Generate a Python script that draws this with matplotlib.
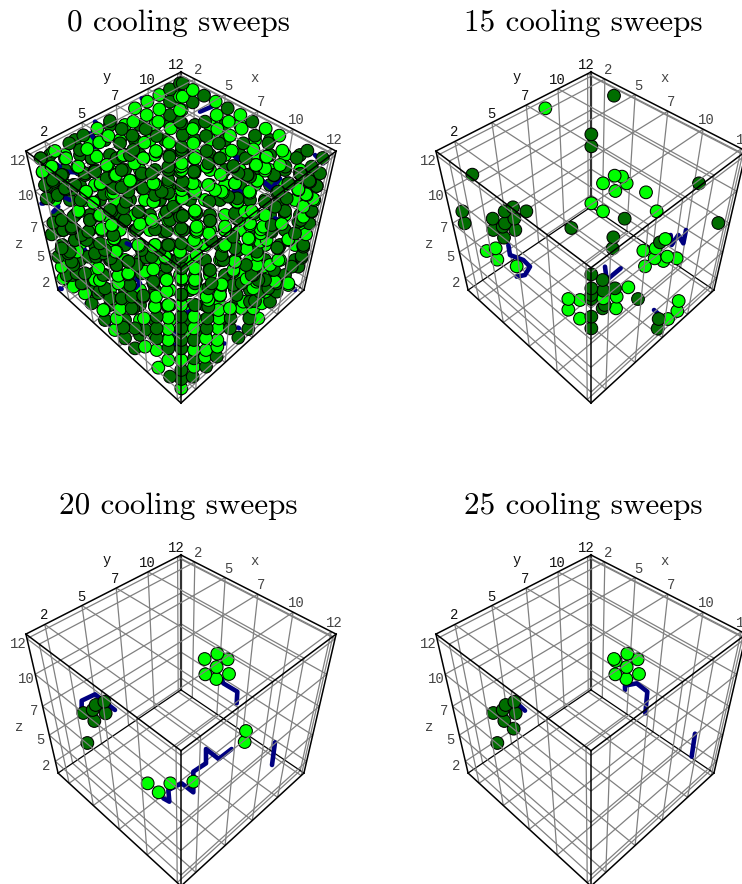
import numpy as np
import matplotlib
matplotlib.use("Agg")
import matplotlib.pyplot as plt

plt.rcParams["axes.unicode_minus"] = False

# tick values on all three axes, shown rounded down as in the original
tick_values = [2.5, 5, 7.5, 10, 12.5]
tick_labels = ["2", "5", "7", "10", "12"]
box_lo, box_hi = 1.3, 12.8

sweeps = [0, 15, 20, 25]

# ball and link positions were read off 3x enlargements of the picture,
# so each list goes with the corner of the view it was read from
VIEW_A = (0, 50)
VIEW_B = (180, 50)
VIEW_C = (20, 225)
VIEW_D = (410, 50)
VIEW_E = (430, 225)
VIEW_F = (0, 535)
VIEW_G = (410, 535)
VIEW_H = (30, 150)
VIEW_I = (180, 150)
VIEW_J = (60, 255)

# 0 sweeps
light_0a = [(165,303),(292,236),(128,366),(155,350),(198,325),(262,297),(325,258),(405,175),(442,155),(478,135),
            (400,215),(440,195),(478,178),(540,140),(475,215),(512,235),(545,180),(433,278),(507,278),(298,277),
            (232,350),(323,345),(368,318),(430,325),(468,303),(545,305),(345,375),(302,402),(258,425),(403,340),
            (392,392),(465,402),(505,395),(340,428),(283,458),(462,455),(298,497),(237,485),(418,485),(458,515),
            (338,525),(420,522),(505,512),(545,445),(545,360),(545,340)]
dark_0a = [(122,325),(208,280),(250,256),(330,213),(365,237),(510,118),(540,100),(510,155),(397,257),(437,237),
           (510,195),(360,280),(470,258),(545,220),(275,325),(188,375),(140,408),(158,390),(350,325),(400,300),
           (508,320),(283,365),(255,375),(217,418),(197,418),(365,360),(425,375),(505,360),(428,415),(365,412),
           (312,432),(242,450),(173,435),(147,445),(505,428),(378,455),(335,483),(270,510),(185,510),(160,518),
           (500,485),(372,513),(215,530),(540,500),(545,405),(545,290)]
light_0b = [(38,120),(107,155),(181,195),(257,236),(298,257),(8,140),(110,195),(146,215),(185,236),(307,302),
            (0,180),(38,237),(112,237),(150,257),(220,298),(258,320),(40,280),(155,302),(227,345),(255,362),
            (355,420),(378,433),(403,450),(45,325),(83,350),(122,374),(232,392),(370,470),(5,348),(165,400),
            (128,428),(210,428),(172,455),(215,483),(45,430),(45,485),(8,445),(255,495),(305,522),(135,530),
            (50,530),(250,530),(210,520)]
dark_0b = [(8,100),(72,137),(143,175),(217,215),(382,302),(428,324),(38,157),(225,257),(265,280),(350,324),
           (395,350),(420,370),(0,215),(75,215),(190,280),(316,350),(360,372),(388,393),(410,408),(8,255),
           (78,258),(117,280),(197,325),(282,376),(326,400),(8,300),(80,303),(120,325),(160,348),(203,375),
           (291,428),(320,445),(395,483),(43,368),(255,455),(145,440),(315,483),(8,395),(90,512),(170,505),
           (362,510),(388,520),(8,498)]
light_0c = [(245,15),(530,20),(615,15),(688,42),(722,25),(805,45),(858,28),(283,42),(405,60),(528,55),
            (567,25),(612,63),(680,72),(775,105),(713,90),(740,45),(172,80),(287,80),(358,62),(400,133),
            (325,148),(295,152),(530,90),(605,105),(645,110),(730,125),(125,125),(235,130),(525,130),(440,165),
            (528,165),(605,178),(640,135),(805,180),(765,170),(130,160),(225,165),(240,165),(160,185),(295,175),
            (408,215),(440,200),(520,190),(560,215),(600,212),(680,162),(735,200),(700,190),(195,205),(252,255),
            (405,245),(484,240),(635,250),(670,230),(725,235),(300,252),(290,280),(372,280),(445,278),(522,275),
            (597,280),(665,250),(715,280),(285,315),(375,365),(445,312),(522,310),(595,310),(445,345),(558,340),
            (592,345),(410,375),(522,375),(558,375),(592,365),(415,428),(445,405),(484,405),(555,395),(522,425),
            (484,490)]
dark_0c = [(95,28),(130,15),(158,10),(345,17),(405,13),(440,18),(484,10),(575,48),(752,18),(850,60),
           (165,45),(205,20),(240,55),(442,60),(484,55),(640,35),(655,75),(772,68),(845,98),(835,125),
           (150,80),(205,95),(250,85),(325,110),(380,98),(440,100),(484,95),(568,135),(678,120),(762,135),
           (155,110),(170,145),(228,95),(272,100),(290,120),(250,150),(485,130),(365,145),(400,170),(575,175),
           (735,165),(700,150),(158,150),(190,175),(255,190),(185,175),(330,180),(484,165),(484,208),(370,212),
           (640,180),(715,165),(770,200),(235,205),(305,220),(335,215),(215,235),(270,220),(340,250),(442,242),
           (525,240),(565,245),(705,228),(750,230),(255,285),(310,308),(345,310),(410,275),(484,275),(562,280),
           (632,280),(688,280),(630,310),(655,338),(685,312),(315,340),(345,370),(375,315),(410,310),(484,310),
           (560,310),(410,340),(484,345),(522,345),(445,370),(484,370),(522,400),(590,395),(450,455),(484,435),
           (558,425),(484,462),(518,455)]
light_0h = [(65,50),(38,65),(105,25),(70,5),(145,50),(200,20),(230,45),(258,75),(212,100),(300,92),
            (168,125),(245,130),(190,158),(370,155),(410,185),(370,100),(340,25),(380,5),(280,15),(145,183),
            (215,237),(245,225),(210,195),(365,210),(260,305),(252,265),(325,285),(370,290),(405,320),(130,105)]
dark_0h = [(32,25),(95,75),(45,105),(70,95),(105,115),(50,145),(185,25),(150,0),(195,65),(230,85),
           (165,70),(135,105),(250,115),(295,125),(340,115),(335,70),(395,125),(412,130),(415,90),(415,50),
           (280,175),(240,180),(325,185),(180,210),(95,210),(130,200),(100,240),(125,235),(155,255),(135,270),
           (170,270),(285,210),(320,240),(400,245),(415,285),(420,210),(390,300),(335,300),(365,320),(225,300),
           (195,310),(115,310),(95,295),(85,320),(430,170),(375,135),(300,15),(365,70),(250,255)]
light_0i = [(42,25),(80,50),(0,50),(125,75),(165,100),(228,45),(260,20),(300,45),(232,92),(5,120),
            (45,125),(125,125),(208,125),(255,55),(355,118),(380,135),(400,147),(172,157),(195,185),(45,182),
            (50,240),(42,270),(135,240),(177,210),(210,225),(243,238),(205,265),(135,285),(325,268),(370,200),
            (275,245),(240,275),(10,105),(38,100),(85,105),(105,120),(0,305)]
dark_0i = [(5,0),(42,65),(118,25),(85,40),(160,50),(202,75),(282,75),(325,100),(295,125),(362,72),
           (390,95),(410,108),(0,65),(88,155),(172,145),(255,155),(285,170),(313,185),(355,215),(395,185),
           (165,190),(90,213),(50,190),(5,200),(10,240),(95,270),(275,225),(345,250),(370,290),(295,295),
           (165,295),(220,190),(125,315),(230,305),(365,318),(210,80),(175,70)]
light_0j = [(205,20),(205,55),(255,50),(120,75),(320,75),(365,70),(405,75),(485,90),(525,20),(590,30),
            (590,80),(630,30),(685,85),(130,165),(285,155),(325,150),(405,150),(445,135),(480,120),(475,165),
            (510,160),(580,160),(160,130)]
dark_0j = [(40,30),(75,55),(20,60),(120,105),(185,130),(215,160),(250,125),(170,30),(230,30),(280,85),
           (320,35),(345,20),(365,120),(405,85),(450,45),(490,15),(445,100),(520,50),(545,85),(575,60),
           (530,120),(570,140),(625,100),(650,85),(695,35),(600,110)]
links_0a = [[(270,250),(285,270),(285,290)], [(285,215),(295,225)], [(165,340),(180,350)], [(200,365),(260,370)],
            [(190,440),(210,450)], [(122,458),(130,458)], [(160,485),(175,470)], [(425,145),(440,150)]]
links_0b = [[(60,185),(95,170)], [(75,125),(85,130)], [(250,395),(275,415)], [(170,325),(195,330)],
            [(405,315),(430,340)], [(175,420),(195,435)]]
links_0c = [[(320,55),(335,62)], [(345,190),(360,175),(350,160)], [(490,270),(510,258)], [(120,190),(125,192)],
            [(115,85),(125,100)], [(195,75),(197,80)], [(200,235),(203,242)], [(655,308),(657,310)],
            [(820,190),(825,195)], [(770,215),(772,215)], [(265,295),(267,297)], [(610,355),(612,355)],
            [(465,325),(467,327)], [(465,358),(467,358)], [(535,385),(537,385)], [(500,422),(502,422)],
            [(545,260),(547,260)]]
links_0i = [[(165,20),(200,30)], [(245,90),(275,115),(300,85)], [(160,125),(190,135)], [(285,205),(295,210)]]

# balls behind the readable ones at 0 sweeps, rough positions in panel pixels
back_light_0 = [(125,125),(155,125),(210,125),(240,125),(90,140),(120,140),(150,140),(210,140),(255,140),
                (65,155),(95,155),(125,155),(155,155),(195,155),(225,155),(255,155),(285,155),
                (50,170),(80,170),(110,170),(140,170),(170,170),(210,170),(240,170),(270,170),(300,170),
                (65,185),(95,185),(125,185),(155,185),(195,185),(225,185),(255,185),(285,185),(312,185),
                (55,200),(85,200),(115,200),(145,200),(175,200),(205,200),(235,200),(265,200),(295,200),
                (75,215),(105,215),(135,215),(165,215),(195,215),(225,215),(255,215),(285,215),
                (60,230),(90,230),(120,230),(150,230),(180,230),(210,230),(240,230),(270,230),(300,230),
                (80,245),(110,245),(140,245),(170,245),(205,245),(235,245),(265,245),(295,245),
                (65,260),(95,260),(125,260),(155,260),(190,260),(220,260),(250,260),(280,260),
                (90,275),(120,275),(150,275),(180,275),(210,275),(240,275),(270,275),
                (110,290),(140,290),(170,290),(205,290),(235,290),(265,290),
                (125,305),(155,305),(190,305),(220,305),(250,305),(140,320),(170,320),(205,320),(155,335),(190,335)]
back_dark_0 = [(110,125),(140,125),(170,125),(195,125),(225,125),(75,140),(105,140),(135,140),(165,140),(195,140),
               (225,140),(270,140),(50,155),(80,155),(110,155),(140,155),(170,155),(210,155),(240,155),(270,155),
               (300,155),(65,170),(95,170),(125,170),(155,170),(195,170),(225,170),(255,170),(285,170),(312,170),
               (52,185),(80,185),(110,185),(140,185),(170,185),(210,185),(240,185),(270,185),(300,185),
               (70,200),(100,200),(130,200),(160,200),(190,200),(220,200),(250,200),(280,200),(310,200),
               (58,215),(90,215),(120,215),(150,215),(180,215),(210,215),(240,215),(270,215),(300,215),
               (75,230),(105,230),(135,230),(165,230),(195,230),(225,230),(255,230),(285,230),
               (62,245),(95,245),(125,245),(155,245),(190,245),(220,245),(250,245),(280,245),
               (80,260),(110,260),(140,260),(170,260),(205,260),(235,260),(265,260),(295,260),
               (72,275),(105,275),(135,275),(165,275),(195,275),(225,275),(255,275),(285,275),
               (95,290),(125,290),(155,290),(190,290),(220,290),(250,290),
               (110,305),(140,305),(170,305),(205,305),(235,305),(125,320),(155,320),(190,320),(220,320),(140,335),(170,335),(205,335)]

# 15 sweeps
light_15d = [(406,175),(614,377),(636,380),(579,400),(650,400),(616,423),(708,427),(544,460),(579,484),(740,484)]
dark_15d = [(612,137),(544,253),(544,289),(187,374),(867,400),(157,484),(164,520),(925,519),(484,534),(644,506),
            (309,472),(349,484),(284,484),(248,506),(313,506),(285,520),(278,530),(316,540)]
light_15e = [(170,78),(197,70),(202,104),(260,124),(640,77),(677,70),(706,42),(712,95),(674,100),(700,108),
             (740,100),(645,124),(595,187),(415,222),(415,254),(450,225),(450,281),(520,220),(560,215),(558,250),
             (746,228),(742,258),(714,282)]
dark_15e = [(190,15),(222,38),(550,37),(548,70),(484,148),(518,165),(484,190),(520,197),(555,190),(484,210),
            (484,222),(518,250),(524,240),(624,222),(484,275),(484,310),(690,52),(686,282),(683,311)]
links_15e = [[(235,60),(240,90),(280,105),(300,125),(285,150),(260,155)], [(525,125),(530,165),(572,130)],
             [(722,30),(725,60),(745,30),(760,55),(768,15)], [(672,255),(695,275)]]

# 20 sweeps
light_20 = [(614,372),(652,356),(683,373),(650,396),(616,418),(649,432),(687,417),(738,588),(734,621),(443,745),
            (476,772),(511,745),(580,740)]
dark_20 = [(262,624),(250,534),(287,510),(313,500),(278,525),(317,535),(283,558)]
links_20 = [[(245,520),(245,497),(285,478),(345,525)], [(665,432),(670,445),(712,470),(710,505)],
            [(490,790),(508,800),(505,765),(545,745),(580,772),(580,710),(618,685),(618,642),(656,672),(695,642)],
            [(825,622),(816,690)]]

# 25 sweeps
light_25 = [(612,372),(617,378),(652,356),(683,373),(650,396),(616,418),(649,432),(687,417)]
dark_25 = [(262,624),(250,534),(287,510),(313,500),(278,525),(317,535),(283,558),(311,581)]
links_25 = [[(330,513),(345,527)], [(645,465),(645,452),(680,445),(712,470),(706,535)], [(855,596),(845,665)]]

panels = [
    {"origin": (0, 0), "size": (410, 483), "title_x": 178.5,
     "light": [(light_0a, VIEW_A), (light_0b, VIEW_B), (light_0c, VIEW_C), (light_0h, VIEW_H),
               (light_0i, VIEW_I), (light_0j, VIEW_J)],
     "dark": [(dark_0a, VIEW_A), (dark_0b, VIEW_B), (dark_0c, VIEW_C), (dark_0h, VIEW_H),
              (dark_0i, VIEW_I), (dark_0j, VIEW_J)],
     "links": [(links_0a, VIEW_A), (links_0b, VIEW_B), (links_0c, VIEW_C), (links_0i, VIEW_I)],
     "back": (back_light_0, back_dark_0)},
    {"origin": (410, 0), "size": (332, 483), "title_x": 173.5,
     "light": [(light_15d, VIEW_D), (light_15e, VIEW_E)],
     "dark": [(dark_15d, VIEW_D), (dark_15e, VIEW_E)],
     "links": [(links_15e, VIEW_E)]},
    {"origin": (0, 483), "size": (410, 401), "title_x": 178.5,
     "light": [(light_20, VIEW_F)], "dark": [(dark_20, VIEW_F)], "links": [(links_20, VIEW_F)]},
    {"origin": (410, 483), "size": (332, 401), "title_x": 173.5,
     "light": [(light_25, VIEW_G)], "dark": [(dark_25, VIEW_G)], "links": [(links_25, VIEW_G)]},
]

LIGHT = "#00ff00"
DARK = "#006e00"
BLUE = "#000080"
GRID = "#808080"
W, H = 742, 884


def fit_camera():
    # corners of the box in panel pixels, then a plain DLT fit
    lo, hi = box_lo, box_hi
    pairs = [((lo, hi, hi), (181, 72)), ((lo, lo, hi), (26, 151)), ((hi, hi, hi), (336, 151)),
             ((hi, lo, hi), (181, 268)), ((hi, lo, lo), (181, 403)), ((lo, lo, lo), (58, 290)),
             ((hi, hi, lo), (304, 290)), ((lo, hi, lo), (181, 207))]
    rows = []
    for (x, y, z), (u, v) in pairs:
        rows.append([x, y, z, 1, 0, 0, 0, 0, -u*x, -u*y, -u*z, -u])
        rows.append([0, 0, 0, 0, x, y, z, 1, -v*x, -v*y, -v*z, -v])
    return np.linalg.svd(np.array(rows, dtype=float))[2][-1].reshape(3, 4)


camera = fit_camera()


def project(x, y, z):
    p = camera @ np.array([x, y, z, 1.0])
    return p[0]/p[2], p[1]/p[2]


def segment(ax, a, b, **kw):
    pa, pb = project(*a), project(*b)
    ax.plot([pa[0], pb[0]], [pa[1], pb[1]], **kw)


def face_grid(ax, axis, value, zorder):
    # lines of one box face, axis is the one held fixed
    others = [i for i in range(3) if i != axis]
    for n, m in (others, others[::-1]):
        for t in tick_values:
            a = [0, 0, 0]
            b = [0, 0, 0]
            a[axis] = b[axis] = value
            a[n] = b[n] = t
            a[m], b[m] = box_lo, box_hi
            segment(ax, a, b, color=GRID, lw=0.9, zorder=zorder, solid_capstyle="butt")


def to_panel(groups, origin):
    out = []
    for pts, view in groups:
        for px, py in pts:
            out.append((view[0] + px/3 - origin[0], view[1] + py/3 - origin[1]))
    return out


fig = plt.figure(figsize=(W/100, H/100), dpi=100)

for n, sweep in enumerate(sweeps):
    panel = panels[n]
    ox, oy = panel["origin"]
    pw, ph = panel["size"]
    ax = fig.add_axes([ox/W, 1 - (oy + ph)/H, pw/W, ph/H])
    ax.set_xlim(0, pw)
    ax.set_ylim(ph, 0)
    ax.axis("off")

    lo, hi = box_lo, box_hi

    # far faces first, marks in between, near faces on top
    face_grid(ax, 0, lo, 1)
    face_grid(ax, 1, hi, 1)
    face_grid(ax, 2, lo, 1)
    edge = dict(color="black", lw=0.9, zorder=2)
    segment(ax, (lo, hi, lo), (lo, hi, hi), color="#333333", lw=1.6, zorder=2)
    segment(ax, (lo, hi, lo), (lo, lo, lo), **edge)
    segment(ax, (lo, hi, lo), (hi, hi, lo), **edge)

    if "back" in panel:
        back_l, back_d = panel["back"]
        back = [(p, LIGHT) for p in back_l] + [(p, DARK) for p in back_d]
        back.sort(key=lambda b: (-b[0][1], b[0][0]))
        ax.scatter([b[0][0] for b in back], [b[0][1] for b in back], c=[b[1] for b in back],
                   s=84, edgecolors="black", linewidths=0.75, zorder=2.5)

    for links, view in panel["links"]:
        for path in links:
            pts = to_panel([(path, view)], (ox, oy))
            ax.plot([p[0] for p in pts], [p[1] for p in pts], color=BLUE, lw=3.3,
                    solid_capstyle="round", solid_joinstyle="round", zorder=3)

    light = to_panel(panel["light"], (ox, oy))
    dark = to_panel(panel["dark"], (ox, oy))
    balls = [(p, LIGHT) for p in light] + [(p, DARK) for p in dark]
    balls.sort(key=lambda b: -b[0][1])
    ax.scatter([b[0][0] for b in balls], [b[0][1] for b in balls], c=[b[1] for b in balls],
               s=84, edgecolors="black", linewidths=0.75, zorder=4)

    face_grid(ax, 0, hi, 5)
    face_grid(ax, 1, lo, 5)
    face_grid(ax, 2, hi, 5)

    edge = dict(color="black", lw=1.1, zorder=6)
    segment(ax, (lo, hi, hi), (lo, lo, hi), **edge)
    segment(ax, (lo, hi, hi), (hi, hi, hi), **edge)
    segment(ax, (hi, lo, hi), (lo, lo, hi), **edge)
    segment(ax, (hi, lo, hi), (hi, hi, hi), **edge)
    segment(ax, (hi, lo, hi), (hi, lo, lo), **edge)
    segment(ax, (lo, lo, hi), (lo, lo, lo), **edge)
    segment(ax, (hi, hi, hi), (hi, hi, lo), **edge)
    segment(ax, (hi, lo, lo), (lo, lo, lo), **edge)
    segment(ax, (hi, lo, lo), (hi, hi, lo), **edge)

    mono = dict(family="Liberation Mono", fontsize=10, ha="center", va="center", zorder=7)
    for t, lab in zip(tick_values, tick_labels):
        px, py = project(t, hi, hi)
        ax.text(px + 3, py - 9, lab, color="#444444", clip_on=False, **mono)
        px, py = project(lo, t, hi)
        ax.text(px - 1, py - 9, lab, color="#111111", clip_on=False, **mono)
        px, py = project(lo, lo, t)
        ax.text(px - 9, py + 5, lab, color="#444444", clip_on=False, **mono)
    ax.text(255, 78, "x", color="#444444", **mono)
    ax.text(107, 77, "y", color="#111111", **mono)
    ax.text(19, 244, "z", color="#444444", **mono)

    ax.text(panel["title_x"], 23, "%d cooling sweeps" % sweep, family="cmr10", fontsize=22.4,
            ha="center", va="center", color="black")

fig.savefig("out.png", dpi=100)
